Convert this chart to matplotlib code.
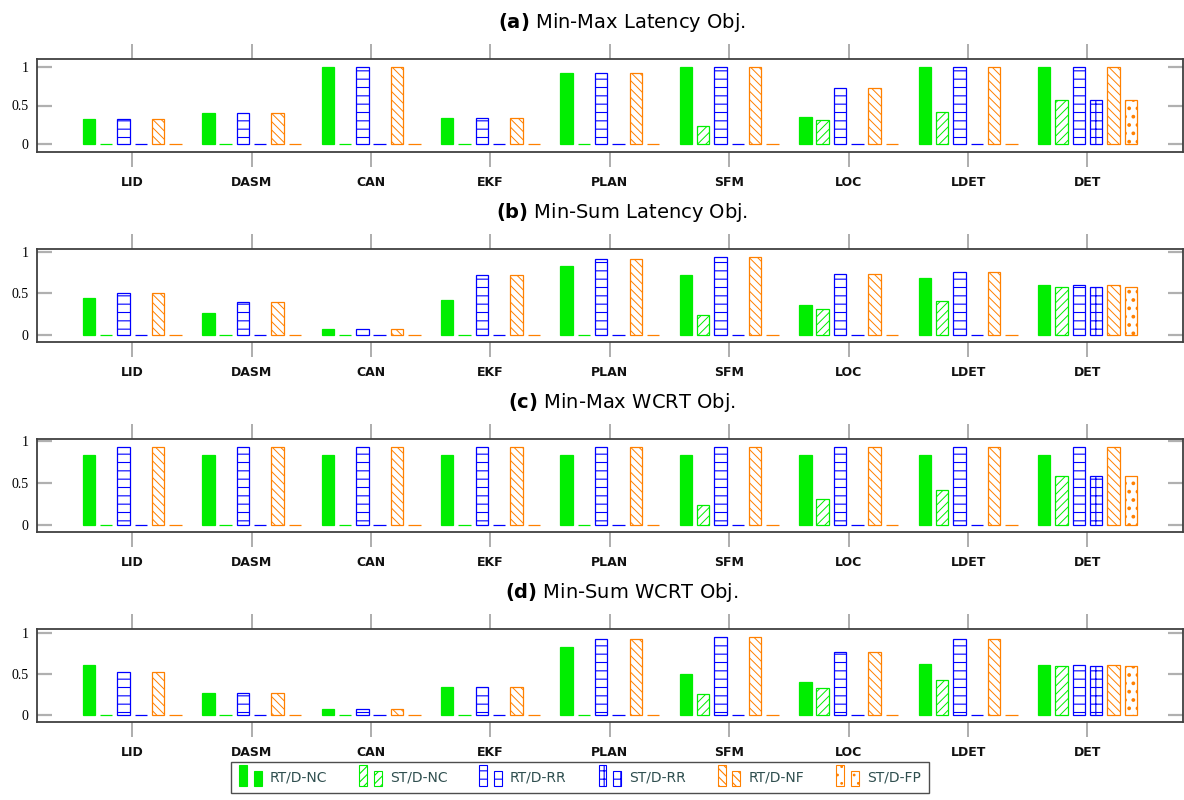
import numpy as np
import matplotlib
matplotlib.use('Agg')
import matplotlib.pyplot as plt
from matplotlib.patches import Rectangle, Patch
from matplotlib.legend_handler import HandlerBase

plt.rcParams['hatch.linewidth'] = 0.8
plt.rcParams['mathtext.fontset'] = 'dejavusans'

groups = ['LID', 'DASM', 'CAN', 'EKF', 'PLAN', 'SFM', 'LOC', 'LDET', 'DET']
series = ['RT/D-NC', 'ST/D-NC', 'RT/D-RR', 'ST/D-RR', 'RT/D-NF', 'ST/D-FP']
titles = ['(a)', '(b)', '(c)', '(d)']
subtitles = ['Min-Max Latency Obj.', 'Min-Sum Latency Obj.',
             'Min-Max WCRT Obj.', 'Min-Sum WCRT Obj.']

# (a) min-max latency
rt_nc_a = [0.33, 0.40, 1.00, 0.34, 0.92, 1.00, 0.35, 1.00, 1.00]
st_nc_a = [0, 0, 0, 0, 0, 0.24, 0.31, 0.41, 0.57]
rt_rr_a = [0.33, 0.40, 1.00, 0.34, 0.92, 1.00, 0.73, 1.00, 1.00]
st_rr_a = [0, 0, 0, 0, 0, 0, 0, 0, 0.57]
rt_nf_a = [0.33, 0.40, 1.00, 0.34, 0.92, 1.00, 0.73, 1.00, 1.00]
st_fp_a = [0, 0, 0, 0, 0, 0, 0, 0, 0.57]

# (b) min-sum latency
rt_nc_b = [0.44, 0.26, 0.07, 0.42, 0.83, 0.72, 0.36, 0.69, 0.60]
st_nc_b = [0, 0, 0, 0, 0, 0.24, 0.31, 0.41, 0.58]
rt_rr_b = [0.51, 0.39, 0.07, 0.72, 0.92, 0.94, 0.73, 0.76, 0.60]
st_rr_b = [0, 0, 0, 0, 0, 0, 0, 0, 0.58]
rt_nf_b = [0.51, 0.39, 0.07, 0.72, 0.92, 0.94, 0.73, 0.76, 0.60]
st_fp_b = [0, 0, 0, 0, 0, 0, 0, 0, 0.58]

# (c) min-max wcrt
rt_nc_c = [0.83, 0.83, 0.83, 0.83, 0.83, 0.83, 0.83, 0.83, 0.83]
st_nc_c = [0, 0, 0, 0, 0, 0.24, 0.31, 0.42, 0.58]
rt_rr_c = [0.93, 0.93, 0.93, 0.93, 0.93, 0.93, 0.93, 0.93, 0.93]
st_rr_c = [0, 0, 0, 0, 0, 0, 0, 0, 0.58]
rt_nf_c = [0.93, 0.93, 0.93, 0.93, 0.93, 0.93, 0.93, 0.93, 0.93]
st_fp_c = [0, 0, 0, 0, 0, 0, 0, 0, 0.58]

# (d) min-sum wcrt
rt_nc_d = [0.61, 0.27, 0.07, 0.34, 0.83, 0.50, 0.40, 0.62, 0.61]
st_nc_d = [0, 0, 0, 0, 0, 0.25, 0.32, 0.42, 0.59]
rt_rr_d = [0.52, 0.27, 0.07, 0.34, 0.93, 0.95, 0.77, 0.92, 0.61]
st_rr_d = [0, 0, 0, 0, 0, 0, 0, 0, 0.59]
rt_nf_d = [0.52, 0.27, 0.07, 0.34, 0.93, 0.95, 0.77, 0.92, 0.61]
st_fp_d = [0, 0, 0, 0, 0, 0, 0, 0, 0.59]

panels = [
    [rt_nc_a, st_nc_a, rt_rr_a, st_rr_a, rt_nf_a, st_fp_a],
    [rt_nc_b, st_nc_b, rt_rr_b, st_rr_b, rt_nf_b, st_fp_b],
    [rt_nc_c, st_nc_c, rt_rr_c, st_rr_c, rt_nf_c, st_fp_c],
    [rt_nc_d, st_nc_d, rt_rr_d, st_rr_d, rt_nf_d, st_fp_d],
]

BS = chr(92)  # backslash for the hatch
GREEN, BLUE, ORANGE = '#00ee00', '#0000ff', '#ff8000'
styles = [
    dict(facecolor=GREEN, edgecolor=GREEN, hatch=None),
    dict(facecolor='white', edgecolor=GREEN, hatch='////'),
    dict(facecolor='white', edgecolor=BLUE, hatch='--'),
    dict(facecolor='white', edgecolor=BLUE, hatch='++'),
    dict(facecolor='white', edgecolor=ORANGE, hatch=BS * 4),
    dict(facecolor='white', edgecolor=ORANGE, hatch='..'),
]
hatch_lw = [0.8, 0.7, 0.8, 0.8, 0.7, 1.5]

fig = plt.figure(figsize=(11.84, 8), dpi=100)
W, H = 1184.0, 800.0
left, right = 36.7, 1183.0
tops = [59, 249.3, 439.3, 629.3]
axh = 93.0

x = np.arange(len(groups))
step = 0.145
width = 0.104

for p, data in enumerate(panels):
    ax = fig.add_axes([left / W, 1 - (tops[p] + axh) / H, (right - left) / W, axh / H])
    for i, vals in enumerate(data):
        with plt.rc_context({'hatch.linewidth': hatch_lw[i]}):
            ax.bar(x + (i - 2.5) * step, vals, width, linewidth=0.9, **styles[i])
    ymax = max(max(v) for v in data)
    ax.set_ylim(-0.1 * ymax, 1.1 * ymax)
    ax.set_xlim(-0.8, 8.8)
    ax.set_xticks(x)
    ax.set_xticklabels(groups, fontsize=9, fontweight='bold', color='#111111')
    ax.set_yticks([0, 0.5, 1])
    ax.set_yticklabels(['0', '0.5', '1'], fontsize=10, family='Liberation Serif')
    ax.tick_params(axis='x', direction='out', length=11, width=1.2, color='#a0a0a0',
                   top=True, labeltop=False, pad=6)
    ax.tick_params(axis='y', direction='in', length=11, width=1.6, color='#b0b0b0',
                   right=True, pad=6)
    for s in ax.spines.values():
        s.set_color('#404040')
        s.set_linewidth(1.3)
    fig.text(622 / W, 1 - (tops[p] - 37) / H, r'$\bf{' + titles[p] + '}$ ' + subtitles[p],
             ha='center', va='center', fontsize=14)


class TwoBars(HandlerBase):
    def create_artists(self, legend, orig_handle, xdescent, ydescent, width, height, fontsize, trans):
        out = []
        for xo, hh in [(0.0, 2.1), (0.62, 1.5)]:
            r = Rectangle((-xdescent + xo * width, -ydescent - 0.45 * height), 0.33 * width, hh * height,
                          facecolor=orig_handle.get_facecolor(), edgecolor=orig_handle.get_edgecolor(),
                          hatch=orig_handle.get_hatch(), linewidth=0.8, transform=trans)
            out.append(r)
        return out


handles = []
for i in range(len(series)):
    with plt.rc_context({'hatch.linewidth': hatch_lw[i]}):
        handles.append(Patch(**styles[i]))
leg = fig.legend(handles, series, loc='upper left', bbox_to_anchor=(231 / W, 1 - 762 / H),
                 ncol=6, handler_map={Patch: TwoBars()}, frameon=True, fancybox=False,
                 fontsize=10, handlelength=1.7, handletextpad=0.5, columnspacing=2.3,
                 borderpad=0.6, borderaxespad=0, labelcolor='#2f4f4f')
leg.get_frame().set_edgecolor('#222222')
leg.get_frame().set_linewidth(1.0)

fig.savefig('out.png', dpi=100)
